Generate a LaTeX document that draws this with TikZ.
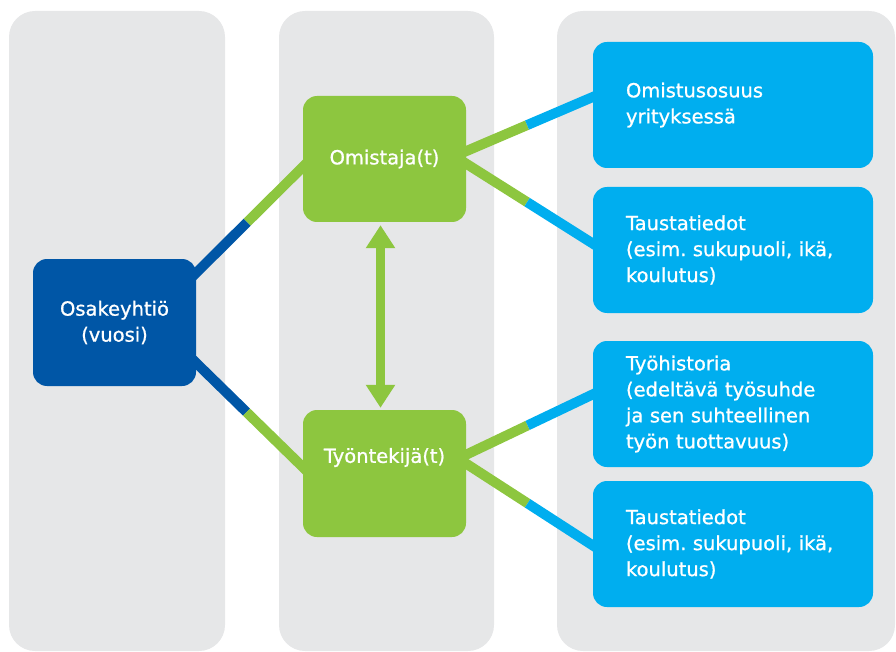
\documentclass[tikz,border=0pt]{standalone}
\usepackage{fontspec}
\setmainfont{DejaVu Sans}[BoldFont={DejaVu Sans},BoldFeatures={FakeBold=0.9}]
\usetikzlibrary{calc,arrows.meta}
\definecolor{dkblue}{RGB}{0,86,166}
\definecolor{lgreen}{RGB}{141,198,63}
\definecolor{cyanb}{RGB}{0,174,239}
\definecolor{panelgrey}{RGB}{230,231,232}
\pgfdeclarelayer{bg}
\pgfdeclarelayer{lines}
\pgfsetlayers{bg,lines,main}
\frenchspacing
\begin{document}
\begin{tikzpicture}[x=1pt,y=-1pt,
  txt/.style={text=white,font=\fontsize{19.5}{26}\selectfont\bfseries},
  panel/.style={fill=panelgrey,rounded corners=26pt},
  midbox/.style={txt,rounded corners=14pt,minimum width=163pt,minimum height=127pt,inner sep=0pt,align=center},
  infobox/.style={txt,fill=cyanb,rounded corners=14pt,minimum width=280pt,minimum height=126pt,text width=214pt,inner xsep=33pt,inner ysep=0pt,align=left},
  conn/.style={line width=10pt},
  dbl/.style={line width=9pt,lgreen,{Triangle[width=28pt,length=23pt]}-{Triangle[width=28pt,length=23pt]}}
]
\useasboundingbox (0,0) rectangle (896,652);

% nodes
\node[midbox,fill=dkblue] (osa) at (114.5,322.5) {Osakeyhtiö\\(vuosi)};
\node[midbox,fill=lgreen,minimum height=126pt] (own) at (384.5,159) {Omistaja(t)};
\node[midbox,fill=lgreen] (emp) at (384.5,473.5) {};
\node[txt] (emptxt) at ($(emp.center)+(0,-16)$) {Työntekijä(t)};
\node[infobox] (b1) at (733,105) {Omistusosuus\\yrityksessä};
\node[infobox] (b2) at (733,250) {Taustatiedot\\(esim. sukupuoli, ikä,\\koulutus)};
\node[infobox] (b3) at (733,404) {Työhistoria\\(edeltävä työsuhde\\ja sen suhteellinen\\työn tuottavuus)};
\node[infobox] (b4) at (733,544) {Taustatiedot\\(esim. sukupuoli, ikä,\\koulutus)};

% panels
\begin{pgfonlayer}{bg}
\fill[panel] (9,11) rectangle (225,651);
\fill[panel] (279,11) rectangle (494,651);
\fill[panel] (557,11) rectangle (895,651);
\end{pgfonlayer}

% connectors
\coordinate (tlA) at ($(osa.north east)+(-9,23)$);
\coordinate (tlB) at ($(own.west)+(7,1)$);
\coordinate (blA) at ($(osa.south east)+(-11,-34)$);
\coordinate (blB) at ($(emp.west)+(5,-1.5)$);
\coordinate (trA) at ($(own.east)+(-9,-4)$);
\coordinate (trB) at ($(b1.west)+(7,-11)$);
\coordinate (tr2A) at ($(own.east)+(-9,-1)$);
\coordinate (tr2B) at ($(b2.west)+(7,-2)$);
\coordinate (brA) at ($(emp.east)+(-8,-15)$);
\coordinate (br1B) at ($(b3.west)+(7,-13)$);
\coordinate (br2B) at ($(b4.west)+(7,6)$);

\begin{pgfonlayer}{lines}
\draw[conn,dkblue] (tlA) -- ($(tlA)!0.49!(tlB)$);
\draw[conn,lgreen] ($(tlA)!0.49!(tlB)$) -- (tlB);
\draw[conn,dkblue] (blA) -- ($(blA)!0.5!(blB)$);
\draw[conn,lgreen] ($(blA)!0.5!(blB)$) -- (blB);
\draw[conn,lgreen] (trA) -- ($(trA)!0.49!(trB)$);
\draw[conn,cyanb] ($(trA)!0.49!(trB)$) -- (trB);
\draw[conn,lgreen] (tr2A) -- ($(tr2A)!0.49!(tr2B)$);
\draw[conn,cyanb] ($(tr2A)!0.49!(tr2B)$) -- (tr2B);
\draw[conn,lgreen] (brA) -- ($(brA)!0.49!(br1B)$);
\draw[conn,cyanb] ($(brA)!0.49!(br1B)$) -- (br1B);
\draw[conn,lgreen] (brA) -- ($(brA)!0.49!(br2B)$);
\draw[conn,cyanb] ($(brA)!0.49!(br2B)$) -- (br2B);
\end{pgfonlayer}

% double arrow
\draw[dbl] ($(own.south)+(-4,3)$) -- ($(emp.north)+(-4,-2)$);
\end{tikzpicture}
\end{document}
